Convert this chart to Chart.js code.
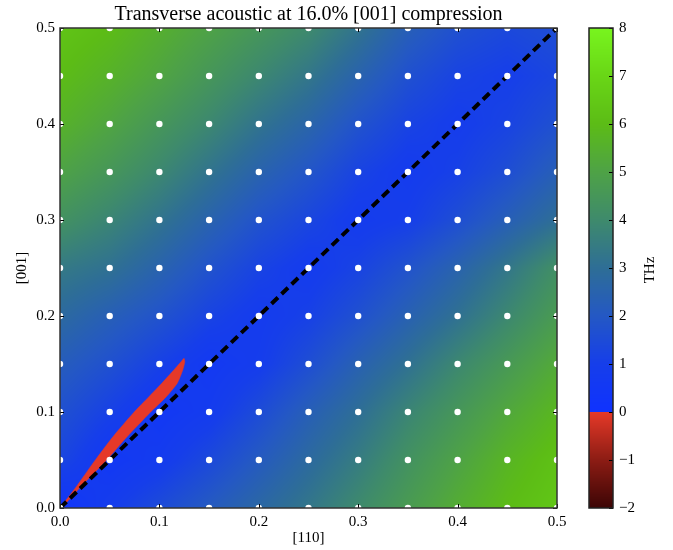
<!DOCTYPE html>
<html><head><meta charset="utf-8">
<script src="https://cdn.jsdelivr.net/npm/chart.js@4.4.1/dist/chart.umd.min.js"></script>
<style>
html,body{margin:0;padding:0;background:#fff;}
#wrap{position:relative;width:673px;height:550px;overflow:hidden;}
#main{position:absolute;left:0;top:0;}
#cb{position:absolute;left:573px;top:0;}
</style></head><body>
<div id="wrap">
<canvas id="main" width="580" height="550" style="width:580px;height:550px"></canvas>
<canvas id="cb" width="100" height="550" style="width:100px;height:550px"></canvas>
</div>
<script>
// ---- data ----
const gridX = [0, 0.05, 0.1, 0.15, 0.2, 0.25, 0.3, 0.35, 0.4, 0.45, 0.5];
const gridY = [0, 0.05, 0.1, 0.15, 0.2, 0.25, 0.3, 0.35, 0.4, 0.45, 0.5];
// frequency (THz), one row per gridY value (bottom to top), columns follow gridX
const freqRow000 = [0.2, 0.9, 1.5, 2.1, 2.7, 3.3, 4.0, 4.7, 5.4, 6.0, 6.4];
const freqRow005 = [1.3, 0.5, 0.8, 1.4, 2.1, 2.8, 3.5, 4.3, 5.0, 5.7, 6.2];
const freqRow010 = [1.7, 1.1, 0.5, 0.8, 1.5, 2.3, 3.0, 3.8, 4.5, 5.2, 5.8];
const freqRow015 = [2.2, 1.7, 1.1, 0.6, 0.9, 1.6, 2.4, 3.1, 3.9, 4.6, 5.3];
const freqRow020 = [2.8, 2.3, 1.8, 1.2, 0.8, 1.1, 1.7, 2.4, 3.1, 3.9, 4.7];
const freqRow025 = [3.4, 3.1, 2.5, 1.8, 1.2, 0.8, 1.2, 1.8, 2.5, 3.3, 4.2];
const freqRow030 = [4.3, 3.8, 3.2, 2.5, 1.8, 1.3, 0.8, 1.0, 1.6, 2.3, 3.0];
const freqRow035 = [5.0, 4.5, 3.9, 3.2, 2.5, 1.9, 1.2, 0.8, 1.1, 1.6, 2.3];
const freqRow040 = [5.6, 5.1, 4.5, 3.9, 3.2, 2.6, 1.8, 1.2, 0.9, 1.2, 1.7];
const freqRow045 = [6.0, 5.6, 5.1, 4.5, 3.9, 3.3, 2.5, 1.7, 1.2, 1.0, 1.3];
const freqRow050 = [6.3, 6.0, 5.5, 5.0, 4.5, 4.0, 3.2, 2.3, 1.7, 1.4, 1.6];
const freqGrid = [freqRow000, freqRow005, freqRow010, freqRow015, freqRow020, freqRow025,
                  freqRow030, freqRow035, freqRow040, freqRow045, freqRow050];
// outline of the imaginary (negative) region: up the upper-left edge, back down the lower-right edge
const negRegionX = [0, 0.0164, 0.0341, 0.0533, 0.0740, 0.0895, 0.1025, 0.1145, 0.1215, 0.1248,
                    0.1255, 0.1235, 0.1180, 0.1070, 0.0905, 0.0675, 0.0451, 0.0208, 0.005, 0];
const negRegionY = [0, 0.0222, 0.048, 0.0743, 0.0993, 0.116, 0.130, 0.1437, 0.152, 0.156,
                    0.152, 0.1437, 0.130, 0.116, 0.0993, 0.0743, 0.048, 0.0222, 0.004, 0];
// dashed path line
const pathX = [0, 0.5];
const pathY = [0, 0.5];
// tick labels
const xTickVals = [0, 0.1, 0.2, 0.3, 0.4, 0.5];
const yTickVals = [0, 0.1, 0.2, 0.3, 0.4, 0.5];
const cbTickVals = [-2, -1, 0, 1, 2, 3, 4, 5, 6, 7, 8];
const titleText = 'Transverse acoustic at 16.0% [001] compression';
const xTitle = '[110]';
const yTitle = '[001]';
const cbTitle = 'THz';

// ---- colour map ----
const cmapPos = [[0,[15,50,255]],[1,[22,62,234]],[2,[36,88,196]],[3,[46,110,150]],[4,[62,138,108]],
                 [5,[78,162,70]],[6,[92,188,22]],[7,[105,214,22]],[8,[120,245,30]]];
const cmapNeg = [[-2,[60,5,5]],[-1,[140,28,20]],[0,[230,57,40]]];
function colorFor(v){
  const stops = v < 0 ? cmapNeg : cmapPos;
  if (v <= stops[0][0]) return stops[0][1];
  if (v >= stops[stops.length-1][0]) return stops[stops.length-1][1];
  for (let k=0;k<stops.length-1;k++){
    const a=stops[k], b=stops[k+1];
    if (v>=a[0] && v<=b[0]){
      const t=(v-a[0])/(b[0]-a[0]);
      return [a[1][0]+(b[1][0]-a[1][0])*t, a[1][1]+(b[1][1]-a[1][1])*t, a[1][2]+(b[1][2]-a[1][2])*t];
    }
  }
  return stops[0][1];
}
function findCell(arr, v){
  if (v <= arr[0]) return [0, 0];
  if (v >= arr[arr.length-1]) return [arr.length-2, 1];
  for (let k=0;k<arr.length-1;k++){
    if (v>=arr[k] && v<=arr[k+1]) return [k, (v-arr[k])/(arr[k+1]-arr[k])];
  }
  return [0,0];
}
function sampleField(vx, vy){
  const [i, tx] = findCell(gridX, vx);
  const [j, ty] = findCell(gridY, vy);
  const z00 = freqGrid[j][i], z10 = freqGrid[j][i+1], z01 = freqGrid[j+1][i], z11 = freqGrid[j+1][i+1];
  return (z00*(1-tx)+z10*tx)*(1-ty) + (z01*(1-tx)+z11*tx)*ty;
}

const serif = '"Liberation Serif", "DejaVu Serif", serif';
Chart.defaults.font.family = serif;
Chart.defaults.color = '#000';

const heatmapPlugin = {
  id: 'heatmap',
  beforeDatasetsDraw(chart){
    const {ctx, chartArea:a, scales:{x, y}} = chart;
    const w = Math.round(a.right - a.left), h = Math.round(a.bottom - a.top);
    const off = document.createElement('canvas'); off.width = w; off.height = h;
    const octx = off.getContext('2d');
    const img = octx.createImageData(w, h);
    const xs = new Array(w);
    for (let i=0;i<w;i++) xs[i] = x.getValueForPixel(a.left + i + 0.5);
    for (let j=0;j<h;j++){
      const vy = y.getValueForPixel(a.top + j + 0.5);
      for (let i=0;i<w;i++){
        const c = colorFor(sampleField(xs[i], vy));
        const p = (j*w + i)*4;
        img.data[p]=c[0]; img.data[p+1]=c[1]; img.data[p+2]=c[2]; img.data[p+3]=255;
      }
    }
    octx.putImageData(img, 0, 0);
    ctx.save();
    ctx.drawImage(off, a.left, a.top, w, h);
    ctx.restore();
  },
  afterDatasetsDraw(chart){
    const {ctx, chartArea:a, scales:{x, y}} = chart;
    ctx.save();
    ctx.strokeStyle = '#000'; ctx.lineWidth = 1;
    ctx.beginPath();
    xTickVals.forEach(v => { const px = Math.round(x.getPixelForValue(v)) + 0.5;
      ctx.moveTo(px, a.bottom); ctx.lineTo(px, a.bottom - 4);
      ctx.moveTo(px, a.top); ctx.lineTo(px, a.top + 4); });
    yTickVals.forEach(v => { const py = Math.round(y.getPixelForValue(v)) + 0.5;
      ctx.moveTo(a.left, py); ctx.lineTo(a.left + 4, py);
      ctx.moveTo(a.right, py); ctx.lineTo(a.right - 4, py); });
    ctx.stroke();
    ctx.strokeStyle = '#333'; ctx.lineWidth = 1.5;
    ctx.strokeRect(a.left, a.top, a.right - a.left, a.bottom - a.top);
    ctx.restore();
  }
};

const dotPoints = [];
gridY.forEach(yv => gridX.forEach(xv => dotPoints.push({x: xv, y: yv})));

new Chart(document.getElementById('main'), {
  type: 'scatter',
  data: {
    datasets: [
      { label: 'q-points', data: dotPoints, pointRadius: 3.2, pointBorderWidth: 0,
        pointBackgroundColor: '#fff', backgroundColor: '#fff', borderWidth: 0, clip: 0, order: 0 },
      { type: 'line', label: 'path', data: pathX.map((v,k)=>({x:v, y:pathY[k]})),
        borderColor: '#000', borderWidth: 4, borderDash: [9,5], pointRadius: 0, fill: false,
        clip: 0, order: 1 },
      { type: 'line', label: 'imaginary', data: negRegionX.map((v,k)=>({x:v, y:negRegionY[k]})),
        borderColor: '#e63928', borderWidth: 0.5, backgroundColor: '#e63928', fill: 'shape',
        pointRadius: 0, tension: 0.2, clip: 0, order: 2 }
    ]
  },
  options: {
    responsive: false, animation: false, devicePixelRatio: 1,
    layout: { padding: { left: 0, right: 23, top: 0, bottom: 0 } },
    plugins: {
      legend: { display: false }, tooltip: { enabled: false },
      title: { display: true, text: titleText, fullSize: false, color: '#000',
        font: { family: serif, size: 20, weight: 'normal' }, padding: { top: 3, bottom: 1 } }
    },
    scales: {
      x: { type: 'linear', min: 0, max: 0.5,
        afterBuildTicks: s => { s.ticks = xTickVals.map(v => ({value: v})); },
        afterFit: s => { s.height = 42; },
        ticks: { callback: v => Number(v).toFixed(1), font: { size: 15 }, padding: 5, maxRotation: 0, color: '#000' },
        grid: { display: false, drawTicks: false }, border: { display: false },
        title: { display: true, text: xTitle, font: { size: 15 }, padding: { top: 0, bottom: 3 }, color: '#000' } },
      y: { type: 'linear', min: 0, max: 0.5,
        afterBuildTicks: s => { s.ticks = yTickVals.map(v => ({value: v})); },
        afterFit: s => { s.width = 60; },
        ticks: { callback: v => Number(v).toFixed(1), font: { size: 15 }, padding: 5, color: '#000' },
        grid: { display: false, drawTicks: false }, border: { display: false },
        title: { display: true, text: yTitle, font: { size: 15 }, padding: { top: 13, bottom: 0 }, color: '#000' } }
    }
  },
  plugins: [heatmapPlugin]
});

const colorbarPlugin = {
  id: 'colorbar',
  afterDraw(chart){
    const {ctx, chartArea:a, scales:{y}} = chart;
    ctx.save();
    for (let py = Math.floor(a.top); py < Math.ceil(a.bottom); py++){
      const v = y.getValueForPixel(py + 0.5);
      const c = colorFor(v);
      ctx.fillStyle = `rgb(${Math.round(c[0])},${Math.round(c[1])},${Math.round(c[2])})`;
      ctx.fillRect(a.left, py, a.right - a.left, 1);
    }
    ctx.strokeStyle = '#000'; ctx.lineWidth = 1;
    ctx.beginPath();
    cbTickVals.forEach(v => { const py = Math.round(y.getPixelForValue(v)) + 0.5;
      ctx.moveTo(a.right, py); ctx.lineTo(a.right - 4, py); });
    ctx.stroke();
    ctx.strokeStyle = '#222'; ctx.lineWidth = 1.5;
    ctx.strokeRect(a.left, a.top, a.right - a.left, a.bottom - a.top);
    ctx.fillStyle = '#000';
    ctx.font = `15px ${serif}`;
    ctx.textAlign = 'center'; ctx.textBaseline = 'middle';
    ctx.translate(77, (a.top + a.bottom) / 2 + 2);
    ctx.rotate(-Math.PI / 2);
    ctx.fillText(cbTitle, 0, 0);
    ctx.restore();
  }
};

new Chart(document.getElementById('cb'), {
  type: 'scatter',
  data: { datasets: [] },
  options: {
    responsive: false, animation: false, devicePixelRatio: 1,
    layout: { padding: { left: 16, right: 0, top: 28, bottom: 42 } },
    plugins: { legend: { display: false }, tooltip: { enabled: false } },
    scales: {
      x: { display: false, min: 0, max: 1 },
      y: { position: 'right', min: -2, max: 8,
        afterBuildTicks: s => { s.ticks = cbTickVals.map(v => ({value: v})); },
        afterFit: s => { s.width = 60; },
        ticks: { callback: v => (v < 0 ? '\u2212' + Math.abs(v) : String(v)), font: { size: 15 }, padding: 6, color: '#000' },
        grid: { display: false, drawTicks: false }, border: { display: false } }
    }
  },
  plugins: [colorbarPlugin]
});
</script>
</body></html>
